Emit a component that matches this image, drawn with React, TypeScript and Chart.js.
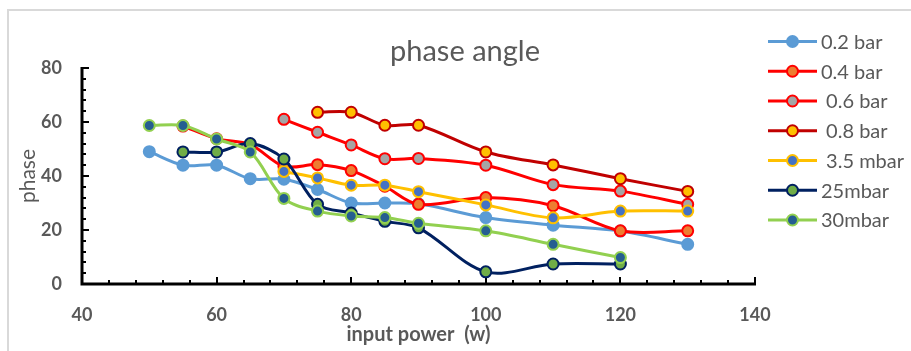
import { useEffect, useRef } from "react";
import { Chart, registerables } from "chart.js";

Chart.register(...registerables);

// ---- data ----
const seriesNames = ["0.2 bar", "0.4 bar", " 0.6 bar", " 0.8 bar", " 3.5 mbar", "25mbar", "30mbar"];

const power02 = [50, 55, 60, 65, 70, 75, 80, 85, 90, 100, 110, 120, 130];
const phase02 = [49, 44, 44, 39, 38.8, 35, 30, 30, 29.7, 24.6, 21.8, 19.6, 14.7];

const power04 = [55, 60, 65, 70, 75, 80, 85, 90, 100, 110, 120, 130];
const phase04 = [58.5, 53.8, 51.6, 43.6, 44.2, 42, 36.2, 29.5, 32, 29, 19.7, 19.7];

const power06 = [70, 75, 80, 85, 90, 100, 110, 120, 130];
const phase06 = [61, 56.2, 51.5, 46.4, 46.5, 44, 36.8, 34.4, 29.5];

const power08 = [75, 80, 85, 90, 100, 110, 120, 130];
const phase08 = [63.6, 63.6, 58.8, 58.8, 48.9, 44.1, 39, 34.3];

const power35m = [70, 75, 80, 85, 90, 100, 110, 120, 130];
const phase35m = [41.7, 39.3, 36.6, 36.6, 34.2, 29.3, 24.5, 27, 27];

const power25m = [55, 60, 65, 70, 75, 80, 85, 90, 100, 110, 120];
const phase25m = [48.9, 48.9, 52, 46.3, 29.5, 26.3, 23.2, 20.8, 4.5, 7.4, 7.4];

const power30m = [50, 55, 60, 65, 70, 75, 80, 85, 90, 100, 110, 120];
const phase30m = [58.7, 58.7, 53.7, 48.9, 31.7, 27, 25.2, 24.6, 22.5, 19.7, 14.7, 9.8];

const xTickValues = [40, 60, 80, 100, 120, 140];
const yTickValues = [0, 20, 40, 60, 80];

const chartTitle = "phase angle";
const xTitle = "input power  (w)";
const yTitle = "phase";

// ---- styles ----
const lineColors = ["#5B9BD5", "#FF0000", "#FF0000", "#C00000", "#FFC000", "#002060", "#92D050"];
const markerFills = ["#5B9BD5", "#ED7D31", "#A5A5A5", "#FFC000", "#4472C4", "#70AD47", "#255E91"];

const seriesX = [power02, power04, power06, power08, power35m, power25m, power30m];
const seriesY = [phase02, phase04, phase06, phase08, phase35m, phase25m, phase30m];

const TEXT = "#595959";
const FONT = "Lato, 'Open Sans', sans-serif";

const excelPlugin = {
  id: "excelDecor",
  beforeDatasetsDraw(chart: any) {
    const { ctx, chartArea, scales } = chart;
    const { left, right, top, bottom } = chartArea;
    const xs = scales.x;
    const ys = scales.y;
    ctx.save();
    ctx.strokeStyle = "#000";
    // ticks (inward)
    ctx.lineWidth = 2;
    for (let v = xs.min; v <= xs.max + 0.001; v += 4) {
      const px = Math.round(xs.getPixelForValue(v));
      const major = Math.abs((v - xs.min) % 20) < 0.001;
      const len = major ? 7 : 4;
      ctx.beginPath();
      ctx.moveTo(px, bottom);
      ctx.lineTo(px, bottom - len);
      ctx.stroke();
    }
    for (let v = ys.min; v <= ys.max + 0.001; v += 4) {
      const py = Math.round(ys.getPixelForValue(v));
      const major = Math.abs(v % 20) < 0.001;
      const len = major ? 7 : 4;
      ctx.beginPath();
      ctx.moveTo(left, py);
      ctx.lineTo(left + len, py);
      ctx.stroke();
    }
    ctx.lineWidth = 3;
    ctx.beginPath();
    ctx.moveTo(left, top - 1);
    ctx.lineTo(left, bottom);
    ctx.lineTo(right + 1, bottom);
    ctx.stroke();
    ctx.restore();
  },
  afterDraw(chart: any) {
    const { ctx } = chart;
    ctx.save();
    // title
    ctx.fillStyle = TEXT;
    ctx.font = `29px ${FONT}`;
    ctx.textAlign = "center";
    ctx.textBaseline = "middle";
    ctx.fillText(chartTitle, 465, 52);
    // legend
    const datasets = chart.data.datasets;
    ctx.textAlign = "left";
    ctx.font = `20px ${FONT}`;
    datasets.forEach((ds: any, i: number) => {
      const y = 41.5 + i * 29.75;
      ctx.strokeStyle = ds.borderColor;
      ctx.lineWidth = 3;
      ctx.beginPath();
      ctx.moveTo(768, y);
      ctx.lineTo(817, y);
      ctx.stroke();
      ctx.beginPath();
      ctx.arc(792.5, y, 5.5, 0, Math.PI * 2);
      ctx.fillStyle = ds.pointBackgroundColor;
      ctx.fill();
      ctx.lineWidth = 2;
      ctx.strokeStyle = ds.pointBorderColor;
      ctx.stroke();
      ctx.fillStyle = TEXT;
      ctx.fillText(ds.label, 821, y + 1);
    });
    ctx.restore();
  },
};

export default function App() {
  const canvasRef = useRef<HTMLCanvasElement | null>(null);

  useEffect(() => {
    if (!canvasRef.current) return;
    const n = seriesNames.length;
    const chart = new Chart(canvasRef.current, {
      type: "line",
      data: {
        datasets: seriesNames.map((name, i) => ({
          label: name,
          data: seriesX[i].map((x, j) => ({ x, y: seriesY[i][j] })),
          borderColor: lineColors[i],
          backgroundColor: markerFills[i],
          pointBackgroundColor: markerFills[i],
          pointBorderColor: lineColors[i],
          pointBorderWidth: 2,
          pointRadius: 5.5,
          pointHoverRadius: 5.5,
          borderWidth: 3,
          tension: 0.33,
          fill: false,
          order: n - 1 - i,
        })),
      },
      options: {
        animation: false,
        responsive: false,
        devicePixelRatio: 1,
        layout: { padding: { left: 0, top: 68, right: 156, bottom: 0 } },
        plugins: {
          legend: { display: false },
          title: { display: false },
          tooltip: { enabled: false },
        },
        scales: {
          x: {
            type: "linear",
            min: 40,
            max: 140,
            afterBuildTicks: (scale: any) => {
              scale.ticks = xTickValues.map((v) => ({ value: v }));
            },
            afterFit: (scale: any) => {
              scale.height = 67;
            },
            grid: { display: false, drawTicks: false },
            border: { display: false },
            ticks: {
              padding: 20,
              color: TEXT,
              font: { family: FONT, size: 18, weight: "bold" },
              maxRotation: 0,
            },
            title: {
              display: true,
              text: xTitle,
              color: TEXT,
              font: { family: FONT, size: 20, weight: "bold" },
              padding: { top: 0, bottom: 4 },
            },
          },
          y: {
            type: "linear",
            min: 0,
            max: 80,
            afterBuildTicks: (scale: any) => {
              scale.ticks = yTickValues.map((v) => ({ value: v }));
            },
            afterFit: (scale: any) => {
              scale.width = 82;
            },
            grid: { display: false, drawTicks: false },
            border: { display: false },
            ticks: {
              padding: 20,
              color: TEXT,
              font: { family: FONT, size: 18, weight: "bold" },
            },
            title: {
              display: true,
              text: yTitle,
              color: TEXT,
              font: { family: FONT, size: 21, weight: "normal" },
              padding: { top: 16, bottom: 0 },
            },
          },
        },
      },
      plugins: [excelPlugin],
    });
    return () => chart.destroy();
  }, []);

  return (
    <div
      style={{
        position: "fixed",
        left: 0,
        top: 0,
        width: 911,
        height: 351,
        background: "#fff",
        overflow: "hidden",
      }}
    >
      <div
        style={{
          position: "absolute",
          left: 7,
          top: 9,
          width: 1000,
          height: 1000,
          border: "2px solid #D9D9D9",
        }}
      />
      <canvas
        ref={canvasRef}
        width={911}
        height={351}
        style={{ position: "absolute", left: 0, top: 0, width: 911, height: 351 }}
      />
    </div>
  );
}
